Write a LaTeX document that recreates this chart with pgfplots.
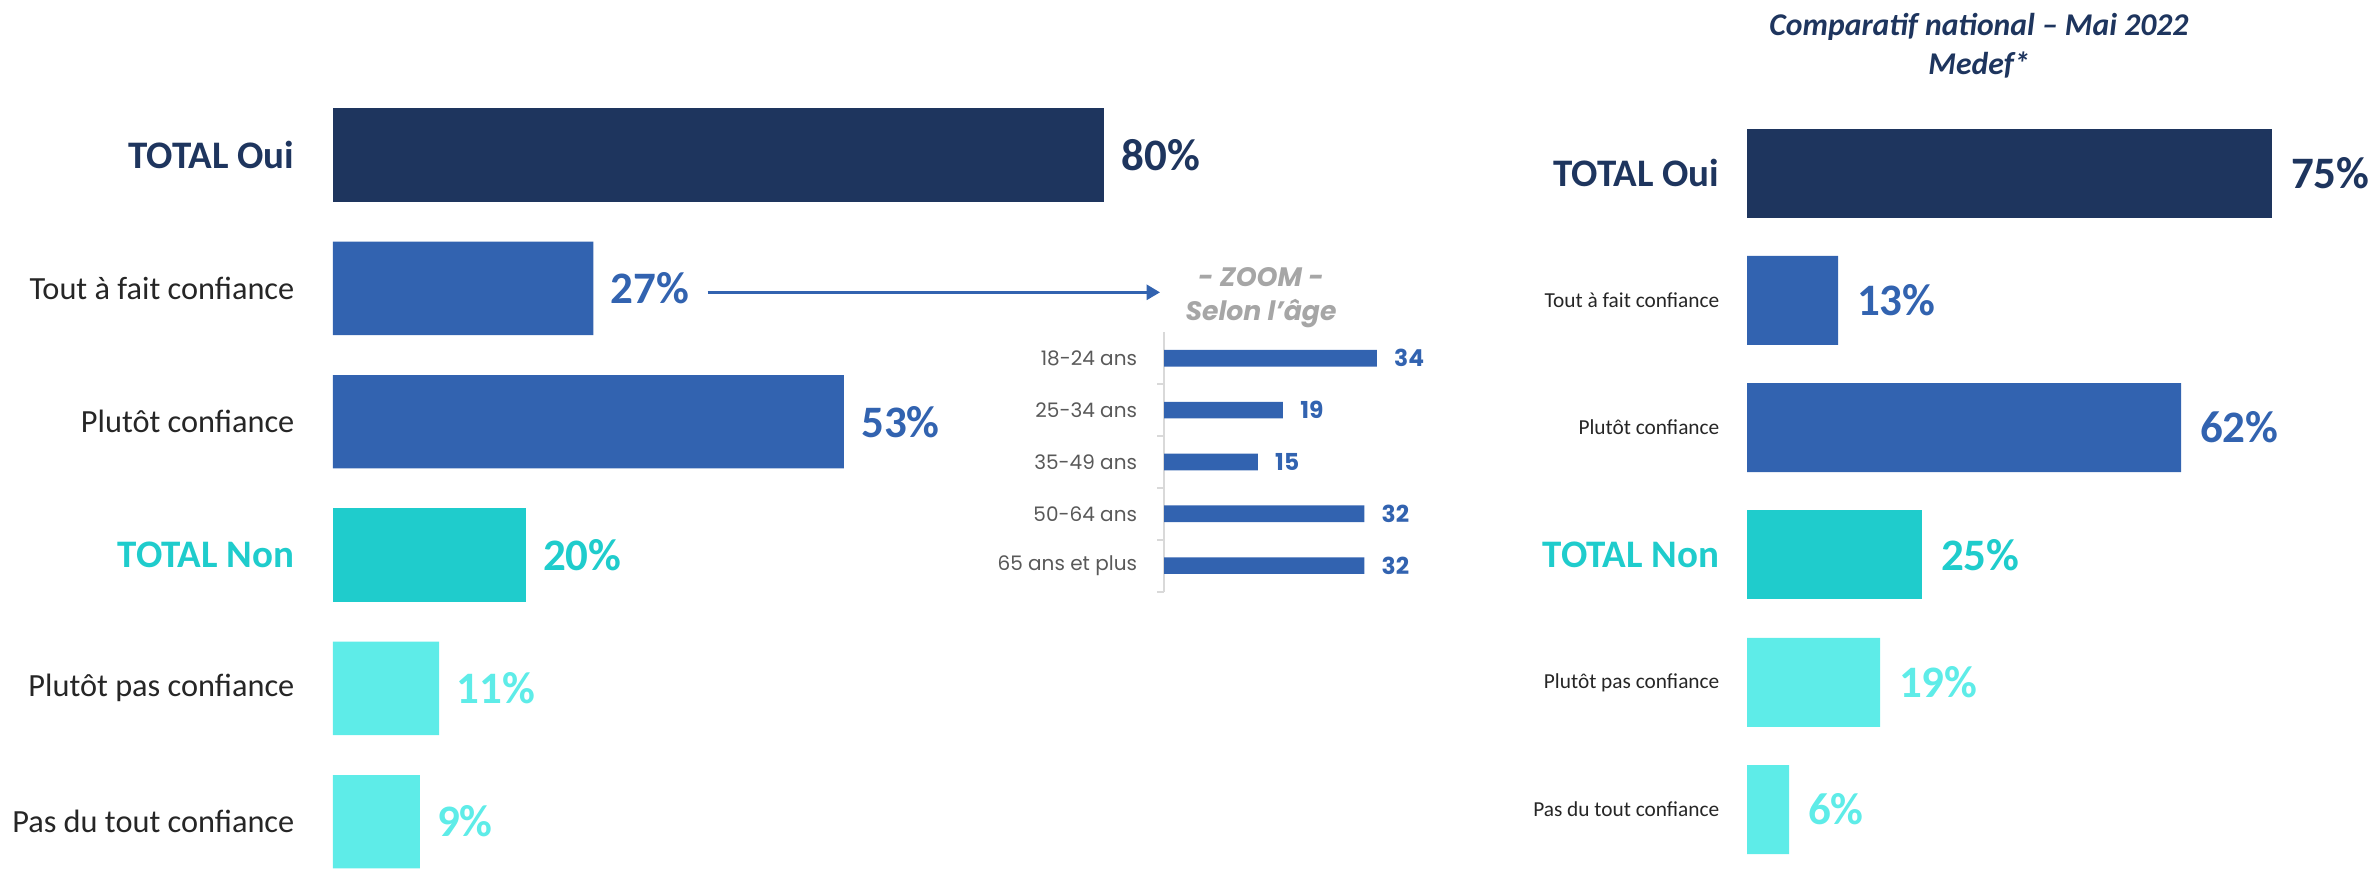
\documentclass[border=0pt]{standalone}
\usepackage{pgfplots}
\pgfplotsset{compat=1.18}
\usepackage{fontspec}
\setmainfont{Carlito}
\newfontfamily\poppins{Poppins}
\usetikzlibrary{arrows.meta}
\definecolor{navy}{HTML}{1E355E}
\definecolor{blueA}{HTML}{3263B0}
\definecolor{teal}{HTML}{1FCCCC}
\definecolor{lightc}{HTML}{5EECE8}
\definecolor{txt}{HTML}{262626}
\definecolor{gtxt}{HTML}{595959}
\definecolor{gtitle}{HTML}{A6A6A6}
\definecolor{gaxis}{HTML}{D9D9D9}
\newcommand{\lb}[1]{{\fontsize{9.7}{11}\selectfont\color{txt}#1}}
\newcommand{\lbs}[1]{{\fontsize{6.4}{7}\selectfont\color{txt}#1}}
\newcommand{\tb}[2]{{\fontsize{11.7}{13}\selectfont\bfseries\color{#1}#2}}
\pgfplotsset{
  common/.style={
    scale only axis, xbar, bar shift=0pt, clip=false,
    xmin=0, xmax=100, y dir=reverse, enlargelimits=false,
    axis line style={draw=none}, xtick=\empty, major tick length=0pt,
    yticklabel style={anchor=east, inner sep=0pt},
    point meta=x,
    /pgf/number format/assume math mode=true,
  },
  pct/.style={
    nodes near coords={\pgfmathprintnumber{\pgfplotspointmeta}\%},
    every node near coord/.append style={anchor=west, inner sep=0pt, font=\fontsize{13.5}{15}\selectfont\bfseries},
  },
}
\begin{document}
\begin{tikzpicture}
\useasboundingbox (0,0) rectangle (712.8pt,260.4pt);

% ---------- left chart ----------
\begin{axis}[common, pct,
  at={(99.9pt,233.9pt)}, anchor=north west,
  width=289.2pt, height=240pt, bar width=28pt,
  ymin=-0.5, ymax=5.5, ytick={0,...,5},
  yticklabels={\tb{navy}{TOTAL Oui}, \lb{Tout à fait confiance}, \lb{Plutôt confiance}, \tb{teal}{TOTAL Non}, \lb{Plutôt pas confiance}, \lb{Pas du tout confiance}},
  yticklabel style={xshift=-11.4pt},
  every node near coord/.append style={xshift=5pt},
]
\addplot[fill=navy, draw=none, every node near coord/.append style={text=navy}] coordinates {(80,0)};
\addplot[fill=blueA, draw=none, every node near coord/.append style={text=blueA}] coordinates {(27,1) (53,2)};
\addplot[fill=teal, draw=none, every node near coord/.append style={text=teal}] coordinates {(20,3)};
\addplot[fill=lightc, draw=none, every node near coord/.append style={text=lightc}] coordinates {(11,4) (9,5)};
\end{axis}

% ---------- right chart ----------
\begin{axis}[common, pct,
  at={(524.1pt,227.6pt)}, anchor=north west,
  width=210pt, height=229.2pt, bar width=26.7pt,
  ymin=-0.5, ymax=5.5, ytick={0,...,5},
  yticklabels={\tb{navy}{TOTAL Oui}, \lbs{Tout à fait confiance}, \lbs{Plutôt confiance}, \tb{teal}{TOTAL Non}, \lbs{Plutôt pas confiance}, \lbs{Pas du tout confiance}},
  yticklabel style={xshift=-8.1pt},
  every node near coord/.append style={xshift=5.5pt},
]
\addplot[fill=navy, draw=none, every node near coord/.append style={text=navy}] coordinates {(75,0)};
\addplot[fill=blueA, draw=none, every node near coord/.append style={text=blueA}] coordinates {(13,1) (62,2)};
\addplot[fill=teal, draw=none, every node near coord/.append style={text=teal}] coordinates {(25,3)};
\addplot[fill=lightc, draw=none, every node near coord/.append style={text=lightc}] coordinates {(19,4) (6,5)};
\end{axis}

% ---------- zoom chart ----------
\begin{axis}[common,
  at={(349.2pt,160.7pt)}, anchor=north west,
  width=187.8pt, height=77.75pt, bar width=5pt,
  ymin=-0.5, ymax=4.5, ytick={0,...,4},
  axis lines*=left, x axis line style={draw=none},
  y axis line style={draw=gaxis, line width=0.6pt},
  yticklabels={18-24 ans, 25-34 ans, 35-49 ans, 50-64 ans, 65 ans et plus},
  yticklabel style={xshift=-7.9pt, font=\poppins\fontsize{6}{7}\selectfont, text=gtxt},
  extra y ticks={0.5,1.5,2.5,3.5,4.5}, extra y tick labels={},
  extra y tick style={tick align=outside, major tick length=2.1pt, tick style={draw=gaxis, line width=0.6pt}},
  nodes near coords={\pgfmathprintnumber{\pgfplotspointmeta}},
  every node near coord/.append style={anchor=west, inner sep=0pt, xshift=5pt, text=blueA, font=\poppins\bfseries\fontsize{7}{8}\selectfont},
]
\addplot[fill=blueA, draw=none] coordinates {(34,0) (19,1) (15,2) (32,3) (32,4)};
\end{axis}

% ---------- titles and arrow ----------
\node[anchor=base, font=\fontsize{9.5}{11}\selectfont\bfseries\itshape, text=navy] at (593.7pt,249.6pt) {Comparatif national – Mai 2022};
\node[anchor=base, font=\fontsize{9.5}{11}\selectfont\bfseries\itshape, text=navy] at (593.7pt,237.9pt) {Medef*};
\node[anchor=base, font=\poppins\bfseries\itshape\fontsize{8}{9}\selectfont, text=gtitle] at (378.3pt,174.6pt) {- ZOOM -};
\node[anchor=base, font=\poppins\bfseries\itshape\fontsize{8}{9}\selectfont, text=gtitle] at (378.3pt,164.4pt) {Selon l’âge};
\draw[blueA, line width=0.8pt, -{Triangle[length=4pt,width=4.5pt]}] (212.3pt,172.7pt) -- (348pt,172.7pt);
\end{tikzpicture}
\end{document}
